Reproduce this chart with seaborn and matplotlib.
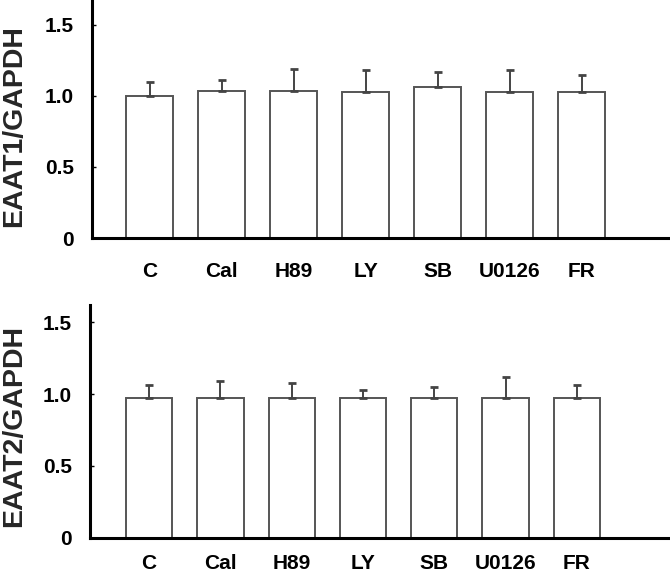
import numpy as np
import pandas as pd
import matplotlib
matplotlib.use("Agg")
import matplotlib.pyplot as plt
import seaborn as sns

categories = ["C", "Cal", "H89", "LY", "SB", "U0126", "FR"]
eaat1_mean = [1.00, 1.035, 1.035, 1.03, 1.06, 1.03, 1.03]
eaat1_err = [0.097, 0.075, 0.155, 0.15, 0.11, 0.15, 0.116]
eaat2_mean = [0.975, 0.975, 0.975, 0.975, 0.975, 0.975, 0.975]
eaat2_err = [0.088, 0.118, 0.104, 0.053, 0.076, 0.141, 0.088]
yticks = [0, 0.5, 1.0, 1.5]
ytick_labels = ["0", "0.5", "1.0", "1.5"]

sns.set_style("white")
plt.rcParams["font.family"] = ["Liberation Sans", "DejaVu Sans"]
plt.rcParams["font.weight"] = "bold"

fig = plt.figure(figsize=(6.7, 5.78), dpi=100)
ax1 = fig.add_axes([92 / 670, 1 - 238 / 578, 576 / 670, 238 / 578])
ax2 = fig.add_axes([90 / 670, 1 - 537.7 / 578, 578 / 670, 232.7 / 578])

panels = [
    (ax1, eaat1_mean, eaat1_err, "EAAT1/GAPDH", (0, 1.676), (-0.8, 7.2), -0.135, 0.47, 17),
    (ax2, eaat2_mean, eaat2_err, "EAAT2/GAPDH", (0, 1.62), (-0.83, 7.28), -0.131, 0.478, 12),
]

for ax, means, errs, label, ylim, xlim, lx, ly, xpad in panels:
    df = pd.DataFrame({"cond": categories, "val": means})
    sns.barplot(data=df, x="cond", y="val", order=categories, ax=ax,
                color="white", edgecolor="#555555", linewidth=1.4,
                width=0.65, errorbar=None, saturation=1)
    x = np.arange(len(categories))
    ax.errorbar(x, means, yerr=[np.zeros(len(errs)), errs], fmt="none",
                ecolor="#444444", elinewidth=1.4, capsize=3, capthick=2)
    ax.set_ylim(*ylim)
    ax.set_xlim(*xlim)
    ax.set_yticks(yticks)
    ax.set_yticklabels(ytick_labels, fontsize=15, fontweight="bold")
    ax.set_xticks(x)
    ax.set_xticklabels(categories, fontsize=15, fontweight="bold")
    ax.set_xlabel("")
    ax.set_ylabel(label, fontsize=20.5, fontweight="bold")
    ax.yaxis.set_label_coords(lx, ly)
    ax.yaxis.label.set_verticalalignment("center")
    for s in ["top", "right"]:
        ax.spines[s].set_visible(False)
    for s in ["left", "bottom"]:
        ax.spines[s].set_color("black")
        ax.spines[s].set_linewidth(2.2)
    ax.tick_params(axis="y", direction="in", length=3, width=1, pad=13, colors="black", left=True)
    ax.tick_params(axis="x", length=0, pad=xpad, colors="black")

fig.savefig("out.png", dpi=100)
